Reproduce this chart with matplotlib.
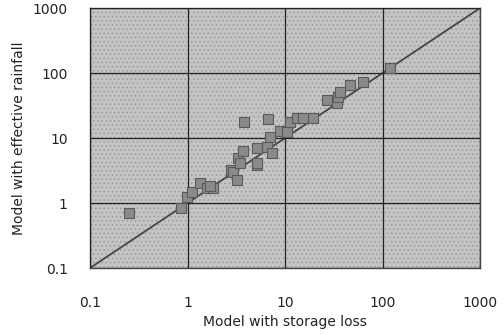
import matplotlib
matplotlib.use("Agg")
import matplotlib.pyplot as plt
from matplotlib.patches import Rectangle

# storage-loss model (x) vs effective-rainfall model (y)
storage_loss = [0.25, 0.86, 0.98, 1.1, 1.34, 1.57, 1.84, 1.7, 2.8, 2.95, 3.2,
                3.3, 3.45, 3.7, 3.8, 5.1, 5.1, 5.1, 6.5, 6.7, 7.0, 7.3,
                8.9, 10.4, 11.2, 13.2, 15.4, 19.5, 26.7, 34, 35, 36.6, 46, 63, 119]
effective_rainfall = [0.7, 0.85, 1.25, 1.5, 2.0, 1.68, 1.68, 1.8, 3.2, 3.0, 2.25,
                      4.9, 4.1, 6.3, 17.5, 3.85, 4.1, 6.9, 7.3, 19.5, 10.5, 5.8,
                      12.6, 12.5, 17.8, 20, 20, 20, 38, 34, 43, 51, 66, 74, 118]

tick_vals = [0.1, 1, 10, 100, 1000]
tick_labels = ["0.1", "1", "10", "100", "1000"]

plt.rcParams["hatch.linewidth"] = 0.6

fig = plt.figure(figsize=(5.04, 3.35), dpi=100)
ax = fig.add_axes([0.1786, 0.2, 0.774, 0.776])
ax.set_facecolor("#c4c4c4")
# dotted screen-tone background
ax.add_patch(Rectangle((0, 0), 1, 1, transform=ax.transAxes, facecolor="none",
                       edgecolor="#9a9a9a", hatch="....", linewidth=0, zorder=0))

ax.set_xscale("log")
ax.set_yscale("log")
ax.set_xlim(0.1, 1000)
ax.set_ylim(0.1, 1000)

ax.set_axisbelow(False)
ax.grid(True, which="major", color="#222222", linewidth=0.9, zorder=1)
ax.minorticks_off()
ax.set_xticks(tick_vals)
ax.set_xticklabels(tick_labels)
ax.set_yticks(tick_vals)
ax.set_yticklabels(tick_labels)
ax.tick_params(length=0, labelsize=10, colors="#222222")
ax.tick_params(axis="x", pad=20)
ax.tick_params(axis="y", pad=16)

ax.plot([0.1, 1000], [0.1, 1000], color="#444444", linewidth=1.3, zorder=2)
ax.scatter(storage_loss, effective_rainfall, marker="s", s=62,
           facecolor="#8a8a8a", edgecolor="#5a5a5a", linewidth=0.8, zorder=3)

for s in ax.spines.values():
    s.set_color("#444444")
    s.set_linewidth(1.0)

ax.set_xlabel("Model with storage loss", fontsize=10, color="#222222", labelpad=4)
ax.set_ylabel("Model with effective rainfall", fontsize=10, color="#222222", labelpad=5)

fig.savefig("out.png", dpi=100)
